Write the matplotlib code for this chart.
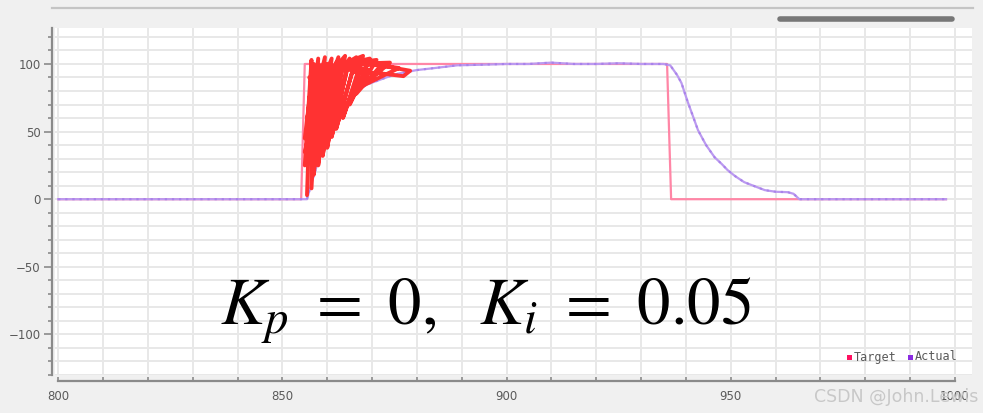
import matplotlib.pyplot as plt
from matplotlib.lines import Line2D
from matplotlib.patches import Rectangle
from matplotlib.ticker import MultipleLocator

# ---------------------------------------------------------------------------
# data
# ---------------------------------------------------------------------------
target_x = [800, 854.2, 855.0, 935.8, 936.7, 998]
target_y = [0, 0, 100, 100, 0, 0]

actual_x = [800, 855.5, 856.5, 858, 859.5, 861, 863, 865, 867, 869, 871.5, 874,
            876, 880, 884, 889, 895, 900, 905, 910, 915, 920, 925, 930, 935,
            936.5, 938, 939, 940.4, 941.5, 942.7, 944.5, 946.4, 948, 949.3,
            951, 953, 955, 957.6, 960, 962.7, 964, 965.3, 998]
actual_y = [0, 0, 12, 28, 40, 56, 66, 74, 81, 85, 88, 91,
            93, 95.5, 97, 99, 99.5, 100, 100, 101, 100, 100, 100.5, 100, 100,
            99, 92, 86, 72, 62, 51, 40, 31, 26, 21.5,
            17, 12.6, 10, 6.7, 5.5, 5.2, 4, 0, 0]

# hand-drawn red scribble over the rising edge
scribble_x = [855.5, 856.5, 855, 858, 856.5, 857, 855, 859.5, 857, 858.5,
              855.5, 861, 858, 860, 855, 862.5, 859, 861.5, 856, 864,
              860, 863, 855.5, 865, 861, 864.5, 857, 866.5, 862, 866,
              856, 868, 863.5, 867.5, 858, 869.5, 865, 869, 860, 871,
              866.5, 872, 864, 874, 868, 876, 870, 878.5, 877, 872,
              866, 862]
scribble_y = [3, 103, 25, 104, 8, 100, 45, 105, 18, 99,
              60, 104, 25, 100, 35, 105, 32, 99, 75, 106,
              38, 100, 55, 104, 46, 98, 85, 105, 52, 99,
              90, 106, 60, 97, 95, 104, 70, 96, 98, 103,
              78, 99, 100, 101, 84, 97, 100, 95, 91, 93,
              94, 101]

x_major = [800, 850, 900, 950, 1000]
y_major = [-100, -50, 0, 50, 100]

TARGET_COLOR = "#ff86a6"
ACTUAL_COLOR = "#bb9af0"
GRID_COLOR   = "#e8e8e8"
AXIS_COLOR   = "#8a8a8a"
LABEL_COLOR  = "#5a5a5a"

plt.rcParams["mathtext.fontset"] = "stix"

W, H = 983, 413
fig = plt.figure(figsize=(W / 100, H / 100), dpi=100, facecolor="#f0f0f0")

# plot area (white), in pixel terms 55..972 x 28..375
ax = fig.add_axes([55 / W, 1 - 375 / H, 917 / W, 347 / H])
ax.set_facecolor("white")
ax.set_xlim(799.3, 1003.8)
ax.set_ylim(-130, 126.6)

ax.xaxis.set_major_locator(MultipleLocator(50))
ax.xaxis.set_minor_locator(MultipleLocator(10))
ax.yaxis.set_major_locator(MultipleLocator(50))
ax.yaxis.set_minor_locator(MultipleLocator(10))
ax.grid(which="both", color=GRID_COLOR, linewidth=1.4)
ax.set_axisbelow(True)

ax.spines[["top", "right"]].set_visible(False)
ax.spines["left"].set_position(("outward", 2.2))
ax.spines["left"].set_color(AXIS_COLOR)
ax.spines["left"].set_linewidth(1.6)
ax.spines["bottom"].set_position(("outward", 4.5))
ax.spines["bottom"].set_bounds(800, 1000)
ax.spines["bottom"].set_color(AXIS_COLOR)
ax.spines["bottom"].set_linewidth(1.6)

ax.tick_params(axis="x", which="both", direction="in", length=3, width=1.2,
               color=AXIS_COLOR, labelcolor=LABEL_COLOR, labelsize=8.5, pad=6)
ax.tick_params(axis="y", which="major", direction="out", length=6, width=1.2,
               color=AXIS_COLOR, labelcolor=LABEL_COLOR, labelsize=8.5, pad=2)
ax.tick_params(axis="y", which="minor", direction="out", length=3, width=1.2,
               color=AXIS_COLOR)
ax.set_xticks(x_major)
ax.set_yticks(y_major)

# series
ax.plot(target_x, target_y, color=TARGET_COLOR, linewidth=1.6, zorder=3)
ax.plot(actual_x, actual_y, color=ACTUAL_COLOR, linewidth=1.6, zorder=4)
ax.plot(actual_x, actual_y, color="#9d72e6", linewidth=1.6,
        linestyle=(0, (1, 2.2)), alpha=0.6, zorder=4)

# red scribble annotation
ax.plot(scribble_x, scribble_y, color="#ff3232", linewidth=2.8,
        solid_joinstyle="round", solid_capstyle="round", zorder=5)

# big formula
fig.text(486 / W, 1 - 325 / H, r"$K_p\ =\ 0,\ \ K_i\ =\ 0.05$",
         fontsize=48, ha="center", va="baseline", color="black")

# legend in the corner (small swatches + monospace labels)
ly = 1 - 357 / H
for sx, col in [(847, "#ff1060"), (908, "#8a2be2")]:
    fig.add_artist(Rectangle((sx / W, ly - 2.5 / H), 5 / W, 5 / H,
                             transform=fig.transFigure, facecolor=col,
                             edgecolor="none"))
mono = dict(family="DejaVu Sans Mono", fontsize=8.5, color=LABEL_COLOR,
            va="center", ha="left")
fig.text(854 / W, ly, "Target", **mono)
fig.text(915 / W, ly, "Actual", **mono)

# widget frame: top border and scrollbar
fig.add_artist(Line2D([52 / W, 973 / W], [1 - 8 / H, 1 - 8 / H],
                      transform=fig.transFigure, color="#c4c4c4", linewidth=1.6))
fig.add_artist(Line2D([780 / W, 952 / W], [1 - 19 / H, 1 - 19 / H],
                      transform=fig.transFigure, color="#777777", linewidth=4,
                      solid_capstyle="round"))

# watermark
fig.text(978 / W, 1 - 397 / H, "CSDN @John.Lewis", fontsize=12.5,
         color="#c8c8c8", ha="right", va="center")

fig.savefig("out.png", dpi=100, facecolor=fig.get_facecolor())
